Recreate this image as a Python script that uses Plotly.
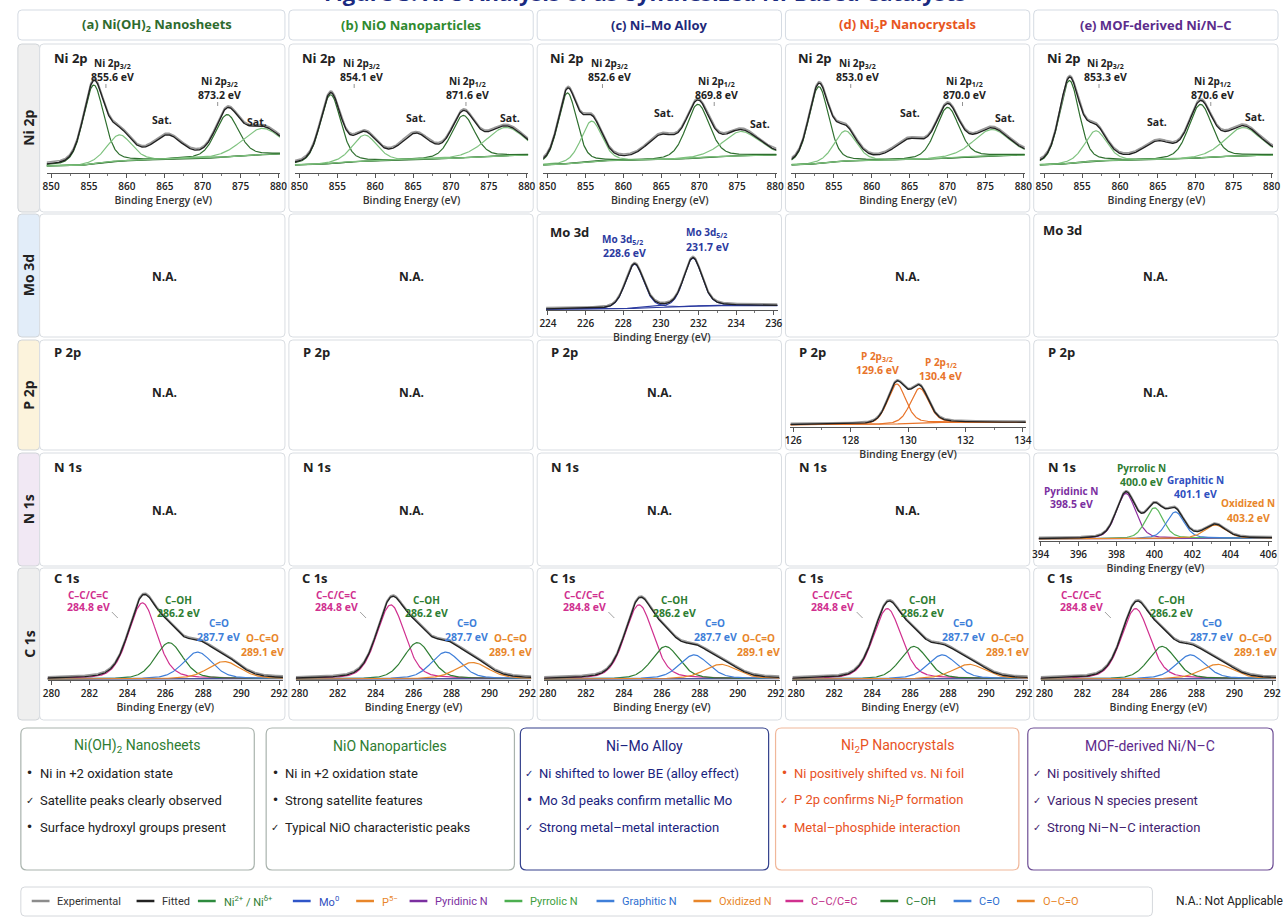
import numpy as np
import plotly.graph_objects as go

W, H = 1288, 922
FONT = "Open Sans, Noto Sans, sans-serif"
NARROW = "Liberation Sans Narrow, Arial Narrow, Roboto, sans-serif"


def px(x):
    return x / W


def py(y):
    return 1 - y / H


# ---------------------------------------------------------------- data
sample_titles = ["(a) Ni(OH)<sub>2</sub> Nanosheets", "(b) NiO Nanoparticles", "(c) Ni–Mo Alloy",
                 "(d) Ni<sub>2</sub>P Nanocrystals", "(e) MOF-derived Ni/N–C"]
sample_colors = ["#2e6b2e", "#2f8a2f", "#1f2a7a", "#e8561e", "#5b2d8c"]
row_names = ["Ni 2p", "Mo 3d", "P 2p", "N 1s", "C 1s"]
row_fills = ["#efefef", "#e2edf9", "#fcf3dc", "#f1e8f4", "#efefef"]

# Ni 2p fits: [2p3/2, shake-up sat., sat. ~865, 2p1/2, sat.]
ni_centers = [[855.6, 859.0, 865.3, 873.2, 877.8],
              [854.1, 858.6, 865.3, 871.6, 877.2],
              [852.6, 855.8, 865.0, 869.8, 875.5],
              [853.0, 856.5, 865.0, 870.0, 875.8],
              [853.3, 856.8, 865.0, 870.6, 876.2]]
ni_heights = [[0.78, 0.26, 0.22, 0.42, 0.26],
              [0.68, 0.26, 0.24, 0.42, 0.28],
              [0.70, 0.40, 0.22, 0.53, 0.24],
              [0.76, 0.30, 0.18, 0.50, 0.26],
              [0.82, 0.30, 0.16, 0.53, 0.28]]
ni_fwhm = [[3.2, 3.8, 4.5, 3.6, 6.0],
           [3.2, 3.8, 4.5, 3.6, 6.0],
           [2.9, 3.2, 4.5, 3.6, 5.5],
           [3.1, 3.4, 4.5, 3.6, 5.5],
           [3.1, 3.4, 4.5, 3.6, 5.5]]
ni_shown = [True, True, False, True, True]
ni_bg = [(0.07, 0.19), (0.08, 0.18), (0.08, 0.18), (0.08, 0.18), (0.08, 0.18)]
ni_label_3_2 = ["Ni 2p<sub>3/2</sub>"] * 5
ni_label_1_2 = ["Ni 2p<sub>3/2</sub>", "Ni 2p<sub>1/2</sub>", "Ni 2p<sub>1/2</sub>",
                "Ni 2p<sub>1/2</sub>", "Ni 2p<sub>1/2</sub>"]
ni_sat1_pos = [(157, 120), (162, 118), (162, 113), (160, 113), (159, 122)]
ni_sat2_pos = [(253, 122), (258, 118), (259, 124), (256, 118), (258, 117)]

# Mo 3d (Ni–Mo alloy)
mo_centers = [228.6, 231.7]
mo_heights = [0.50, 0.55]
mo_fwhm = [1.15, 1.15]
mo_labels = ["Mo 3d<sub>5/2</sub>", "Mo 3d<sub>5/2</sub>"]

# P 2p (Ni2P)
p_centers = [129.6, 130.4]
p_heights = [0.52, 0.45]
p_fwhm = [0.75, 0.75]
p_labels = ["P 2p<sub>3/2</sub>", "P 2p<sub>1/2</sub>"]

# N 1s (MOF-derived Ni/N-C)
n_species = ["Pyridinic N", "Pyrrolic N", "Graphitic N", "Oxidized N"]
n_centers = [398.5, 400.0, 401.1, 403.2]
n_heights = [0.62, 0.42, 0.36, 0.18]
n_fwhm = [1.2, 1.1, 1.1, 1.3]
n_colors = ["#8e2fa0", "#5cb85c", "#3f7fd9", "#e8862a"]
n_label_colors = ["#7b2fa0", "#2e7d32", "#2f4fc0", "#e8862a"]

# C 1s, all samples
c_species = ["C–C/C=C", "C–OH", "C=O", "O–C=O"]
c_centers = [284.8, 286.2, 287.7, 289.1]
c_heights = [[0.80, 0.38, 0.28, 0.18],
             [0.78, 0.38, 0.28, 0.17],
             [0.78, 0.34, 0.25, 0.15],
             [0.74, 0.34, 0.25, 0.15],
             [0.74, 0.34, 0.25, 0.15]]
c_fwhm = [1.75, 1.7, 1.8, 2.0]
c_colors = ["#d0308f", "#2e7d32", "#3f7fd9", "#e8862a"]

summary_titles = ["Ni(OH)<sub>2</sub> Nanosheets", "NiO Nanoparticles", "Ni–Mo Alloy",
                  "Ni<sub>2</sub>P Nanocrystals", "MOF-derived Ni/N–C"]
summary_items = [["Ni in +2 oxidation state", "Satellite peaks clearly observed", "Surface hydroxyl groups present"],
                 ["Ni in +2 oxidation state", "Strong satellite features", "Typical NiO characteristic peaks"],
                 ["Ni shifted to lower BE (alloy effect)", "Mo 3d peaks confirm metallic Mo", "Strong metal–metal interaction"],
                 ["Ni positively shifted vs. Ni foil", "P 2p confirms Ni<sub>2</sub>P formation", "Metal–phosphide interaction"],
                 ["Ni positively shifted", "Various N species present", "Strong Ni–N–C interaction"]]
summary_marks = [["•", "✓", "•"], ["•", "•", "✓"], ["✓", "•", "✓"], ["•", "✓", "•"], ["✓", "✓", "✓"]]
summary_title_colors = ["#2e7d32", "#2e7d32", "#1a237e", "#e8531f", "#5e2a8c"]
summary_text_colors = ["#222222", "#222222", "#1a237e", "#e8531f", "#3f2270"]
summary_borders = ["#a9b3ad", "#a9b3ad", "#34418c", "#f0b79a", "#6f4f96"]

legend_names = ["Experimental", "Fitted", "Ni<sup>2+</sup> / Ni<sup>δ+</sup>", "Mo<sup>0</sup>", "P<sup>5−</sup>",
                "Pyridinic N", "Pyrrolic N", "Graphitic N", "Oxidized N", "C–C/C=C", "C–OH", "C=O", "O–C=O"]
legend_colors = ["#8c8c8c", "#222222", "#2e8b3e", "#2f55c8", "#e8862a", "#7b2fa0", "#4caf50",
                 "#3f7fd9", "#e8862a", "#d0308f", "#2e7d32", "#3f7fd9", "#e8862a"]
legend_text_colors = ["#333333", "#333333", "#2e7d32", "#2f4fc0", "#e8862a", "#7b2fa0", "#3e9e3e",
                      "#2f6fd0", "#e8862a", "#c0308a", "#2e7d32", "#2f6fd0", "#e8862a"]

# ---------------------------------------------------------------- geometry
col_x0 = [33, 285, 536, 787, 1038]
col_x1 = [281, 532, 783, 1034, 1285]
row_y = [(44, 212), (214, 337), (340, 450), (453, 566), (568, 720)]
PITCH = 251


def pv(x, c, h, w, eta=0.3):
    g = np.exp(-4 * np.log(2) * ((x - c) / w) ** 2)
    lor = 1 / (1 + 4 * ((x - c) / w) ** 2)
    return h * ((1 - eta) * g + eta * lor)


def shirley(x, peaks_sum, b0, b1):
    cum = np.cumsum(peaks_sum)
    return b0 + (b1 - b0) * cum / cum[-1]


fig = go.Figure()
layout = dict(width=W, height=H, margin=dict(l=0, r=0, t=0, b=0), paper_bgcolor="white",
              plot_bgcolor="white", showlegend=False, font=dict(family=FONT, color="#222"))
shapes, annots = [], []
axis_count = [0]


def add_axes(xpx, ypx, xrange, dtick, minor_dtick, standoff):
    axis_count[0] += 1
    k = axis_count[0]
    sfx = "" if k == 1 else str(k)
    layout["xaxis" + sfx] = dict(
        domain=[px(xpx[0]), px(xpx[1])], range=xrange, anchor="y" + sfx, dtick=dtick,
        showline=True, linecolor="#555", linewidth=1, ticks="outside", ticklen=4, tickcolor="#555",
        tickfont=dict(size=10, color="#222", family=FONT, weight=600), showgrid=False, zeroline=False,
        minor=dict(ticks="outside", ticklen=2, tickcolor="#777", dtick=minor_dtick),
        title=dict(text="Binding Energy (eV)", font=dict(size=10.5, color="#333", family=FONT, weight=600),
                   standoff=standoff))
    layout["yaxis" + sfx] = dict(domain=[py(ypx[1]), py(ypx[0])], range=[0, 1], anchor="x" + sfx,
                                 visible=False, fixedrange=True)
    return "x" + sfx, "y" + sfx


def draw_spectrum(xa, ya, x, bg, comps, bg_color, yrange):
    layout["yaxis" + xa[1:]]["range"] = yrange
    total = bg + sum(c for c, _, _ in comps)
    fig.add_trace(go.Scatter(x=x, y=bg, mode="lines", line=dict(color=bg_color, width=1.2),
                             xaxis=xa, yaxis=ya, hoverinfo="skip"))
    for comp, color, show in comps:
        if show:
            fig.add_trace(go.Scatter(x=x, y=bg + comp, mode="lines", line=dict(color=color, width=1.2),
                                     xaxis=xa, yaxis=ya, hoverinfo="skip"))
    fig.add_trace(go.Scatter(x=x, y=total + 0.014 * (yrange[1] - yrange[0]), mode="lines",
                             line=dict(color="#9a9a9a", width=1.6), xaxis=xa, yaxis=ya, hoverinfo="skip"))
    fig.add_trace(go.Scatter(x=x, y=total, mode="lines", line=dict(color="#222", width=1.4),
                             xaxis=xa, yaxis=ya, hoverinfo="skip"))


def text(x, y, s, size=10.5, color="#222", bold=True, anchor="center", family=FONT, angle=0):
    annots.append(dict(x=px(x), y=py(y), xref="paper", yref="paper", text=f"<b>{s}</b>" if bold else s,
                       showarrow=False, xanchor=anchor, yanchor="middle", textangle=angle,
                       font=dict(size=size, color=color, family=family)))


def line(x0, y0, x1, y1, color="#777", width=0.8):
    shapes.append(dict(type="line", xref="paper", yref="paper", x0=px(x0), y0=py(y0), x1=px(x1), y1=py(y1),
                       line=dict(color=color, width=width)))


def rrect(x0, y0, x1, y1, r=5, color="#d3d7dc", fill="rgba(0,0,0,0)", width=1):
    rx, ry = r / W, r / H
    a0, a1, b0, b1 = px(x0), px(x1), py(y1), py(y0)
    path = (f"M{a0 + rx},{b1} L{a1 - rx},{b1} Q{a1},{b1} {a1},{b1 - ry} L{a1},{b0 + ry} "
            f"Q{a1},{b0} {a1 - rx},{b0} L{a0 + rx},{b0} Q{a0},{b0} {a0},{b0 + ry} "
            f"L{a0},{b1 - ry} Q{a0},{b1} {a0 + rx},{b1} Z")
    shapes.append(dict(type="path", xref="paper", yref="paper", path=path,
                       line=dict(color=color, width=width), fillcolor=fill, layer="below"))


# ---------------------------------------------------------------- frames
text(645, -8, "Figure 3. XPS Analysis of as-Synthesized Ni-Based Catalysts", size=22, color="#1a2a80")
for i in range(5):
    hx0 = 11 if i == 0 else col_x0[i]
    rrect(hx0, 10, col_x1[i], 40, r=4, color="#d5dbe3", fill="white")
    text((hx0 + col_x1[i]) / 2 + (6 if i == 0 else 0), 25, sample_titles[i], size=13, color=sample_colors[i])
for r, (y0, y1) in enumerate(row_y):
    rrect(11, y0, 33, y1, r=4, color="#d0d4d8", fill=row_fills[r])
    text(22, (y0 + y1) / 2, row_names[r], size=14, color="#222", angle=-90)
    for i in range(5):
        rrect(col_x0[i], y0, col_x1[i], y1, r=4, color="#d9dde2", fill="white")

# ---------------------------------------------------------------- Ni 2p row
x_ni = np.linspace(849.4, 880.2, 500)
for i in range(5):
    xa, ya = add_axes((40 + PITCH * i, 276 + PITCH * i), (62, 173), [849.4, 880.2], 5, 2.5, 2)
    peaks = [pv(x_ni, c, h, w) for c, h, w in zip(ni_centers[i], ni_heights[i], ni_fwhm[i])]
    bg = shirley(x_ni, sum(peaks), *ni_bg[i])
    colors = ["#2f6f2f", "#7fc27f", "#7fc27f", "#2f6f2f", "#7fc27f"]
    draw_spectrum(xa, ya, x_ni, bg, list(zip(peaks, colors, ni_shown)), "#2f6f2f", [0, 1.1])
    ox = PITCH * i
    text(45 + ox, 58, "Ni 2p", size=13, anchor="left")
    text(107 + ox, 63, ni_label_3_2[i], size=10)
    text(107 + ox, 77, f"{ni_centers[i][0]:.1f} eV", size=10.5)
    line(100 + ox, 84, 100 + ox, 88)
    text(215 + ox, 81, ni_label_1_2[i], size=10)
    text(215 + ox, 95, f"{ni_centers[i][3]:.1f} eV", size=10.5)
    line(213 + ox, 102, 213 + ox, 106)
    text(ni_sat1_pos[i][0] + ox, ni_sat1_pos[i][1], "Sat.", size=10.5)
    text(ni_sat2_pos[i][0] + ox, ni_sat2_pos[i][1], "Sat.", size=10.5)

# ---------------------------------------------------------------- Mo 3d row
x_mo = np.linspace(223.9, 236.2, 400)
xa, ya = add_axes((545, 779), (222, 310), [223.9, 236.2], 2, 1, 0)
peaks = [pv(x_mo, c, h, w) for c, h, w in zip(mo_centers, mo_heights, mo_fwhm)]
bg = shirley(x_mo, sum(peaks), 0.01, 0.05)
draw_spectrum(xa, ya, x_mo, bg, [(p, "#2b3aa0", True) for p in peaks], "#2b3aa0", [0, 1])
text(547, 232, "Mo 3d", size=13, anchor="left")
text(622, 239, mo_labels[0], size=10, color="#2b3aa0")
text(624, 253, f"{mo_centers[0]:.1f} eV", size=10.5, color="#2b3aa0")
text(707, 233, mo_labels[1], size=10, color="#2b3aa0")
text(708, 247, f"{mo_centers[1]:.1f} eV", size=10.5, color="#2b3aa0")
text(1045, 230, "Mo 3d", size=13, anchor="left")
for i in [0, 1, 3, 4]:
    text((col_x0[i] + col_x1[i]) / 2 + (2 if i == 0 else 0), 276, "N.A.", size=12)

# ---------------------------------------------------------------- P 2p row
x_p = np.linspace(125.9, 134.1, 400)
xa, ya = add_axes((792, 1030), (350, 427), [125.9, 134.1], 2, 1, 0)
peaks = [pv(x_p, c, h, w) for c, h, w in zip(p_centers, p_heights, p_fwhm)]
bg = shirley(x_p, sum(peaks), 0.03, 0.06)
draw_spectrum(xa, ya, x_p, bg, [(p, "#e8742a", True) for p in peaks], "#e8742a", [0, 1])
text(880, 356, p_labels[0], size=10, color="#e8742a")
text(880, 370, f"{p_centers[0]:.1f} eV", size=10.5, color="#e8742a")
text(944, 362, p_labels[1], size=10, color="#e8742a")
text(944, 376, f"{p_centers[1]:.1f} eV", size=10.5, color="#e8742a")
for i in range(5):
    text(col_x0[i] + 12 if i else 45, 352, "P 2p", size=13, anchor="left")
    if i != 3:
        text((col_x0[i] + col_x1[i]) / 2 + (2 if i == 0 else 0), 392, "N.A.", size=12)

# ---------------------------------------------------------------- N 1s row
x_n = np.linspace(393.9, 406.2, 400)
xa, ya = add_axes((1043, 1279), (468, 541), [393.9, 406.2], 2, 1, 0)
peaks = [pv(x_n, c, h, w) for c, h, w in zip(n_centers, n_heights, n_fwhm)]
bg = shirley(x_n, sum(peaks), 0.03, 0.04)
draw_spectrum(xa, ya, x_n, bg, [(p, col, True) for p, col in zip(peaks, n_colors)], "#7b4fb0", [0, 1])
n_label_xy = [(1076, 491, 504), (1147, 468, 482), (1202, 480, 494), (1255, 503, 518)]
for (lx, y1, y2), name, be, col in zip(n_label_xy, n_species, n_centers, n_label_colors):
    text(lx, y1, name, size=10, color=col)
    text(lx, y2, f"{be:.1f} eV", size=10.5, color=col)
for i in range(5):
    text(col_x0[i] + 12 if i else 45, 467, "N 1s", size=13, anchor="left")
    if i != 4:
        text((col_x0[i] + col_x1[i]) / 2 + (2 if i == 0 else 0), 510, "N.A.", size=12)

# ---------------------------------------------------------------- C 1s row
x_c = np.linspace(279.8, 292.2, 400)
c_label_xy = [(82, 595, 607), (173, 600, 613), (214, 623, 637), (258, 638, 652)]
for i in range(5):
    xa, ya = add_axes((41 + PITCH * i, 279 + PITCH * i), (585, 680), [279.8, 292.2], 2, 1, 2)
    peaks = [pv(x_c, c, h, w) for c, h, w in zip(c_centers, c_heights[i], c_fwhm)]
    bg = shirley(x_c, sum(peaks), 0.01, 0.015)
    draw_spectrum(xa, ya, x_c, bg, [(p, col, True) for p, col in zip(peaks, c_colors)], "#34418c", [0, 1])
    ox = PITCH * i
    text(45 + ox, 578, "C 1s", size=13, anchor="left")
    for (lx, y1, y2), name, be, col in zip(c_label_xy, c_species, c_centers, c_colors):
        text(lx + ox, y1, name, size=10, color=col)
        text(lx + ox, y2, f"{be:.1f} eV", size=10.5, color=col)
    line(106 + ox, 612, 112 + ox, 618, color="#888")

# ---------------------------------------------------------------- summary boxes
box_x = [(14, 250), (262, 513), (519, 770), (777, 1023), (1032, 1280)]
for i, (bx0, bx1) in enumerate(box_x):
    rrect(bx0, 728, bx1, 870, r=6, color=summary_borders[i], fill="white", width=1.2)
    text((bx0 + bx1) / 2, 746, summary_titles[i], size=14, color=summary_title_colors[i], bold=False,
         family=NARROW)
    for j, (mark, item) in enumerate(zip(summary_marks[i], summary_items[i])):
        yy = 773 + 27 * j
        text(bx0 + 9, yy, mark, size=10 if mark == "✓" else 12, color=summary_text_colors[i],
             bold=False, family="DejaVu Sans")
        text(bx0 + 17, yy, item, size=13, color=summary_text_colors[i], bold=False, anchor="left",
             family=NARROW)

# ---------------------------------------------------------------- legend strip
rrect(14, 887, 1158, 916, r=4, color="#d5d8dc", fill="white")
legend_x = [25, 131, 193, 289, 353, 407, 503, 596, 694, 787, 883, 957, 1021]
for lx, name, col, tcol in zip(legend_x, legend_names, legend_colors, legend_text_colors):
    line(lx, 901, lx + 18, 901, color=col, width=2.5)
    text(lx + 24, 901, name, size=11, color=tcol, bold=False, anchor="left", family=NARROW)
text(1236, 901, "N.A.: Not Applicable", size=12, color="#222", bold=False, family=NARROW)

layout["shapes"] = shapes
layout["annotations"] = annots
fig.update_layout(**layout)
fig.write_html("out.html")
